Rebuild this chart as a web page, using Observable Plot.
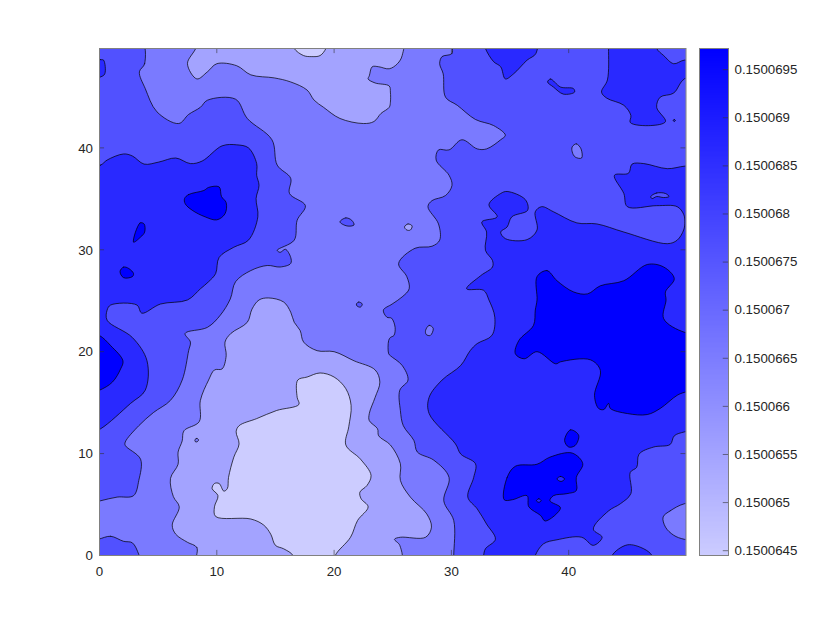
<!DOCTYPE html>
<html>
<head>
<meta charset="utf-8">
<script src="https://cdn.jsdelivr.net/npm/d3@7"></script>
<script src="https://cdn.jsdelivr.net/npm/@observablehq/plot@0.6"></script>
<style>
html,body{margin:0;padding:0;background:#fff}
#chart{position:relative;width:830px;height:623px;overflow:hidden}
#chart svg{display:block;background:transparent}
#bar{position:absolute;left:690px;top:0}
</style>
</head>
<body>
<div id="chart"><div id="main"></div><div id="bar"></div></div>
<script>
// Bands between contour levels (value range of the colour bar: 0.15006445 – 0.15006972)
const bandNames = ["L0","L1","L2","L3","L4","L5"];
const bandColors = ["#ccccff","#a3a3ff","#7a7aff","#5151ff","#2929ff","#0000ff"];
const xTicks = [0,10,20,30,40];
const yTicks = [0,10,20,30,40];
const yTop = 49.75;   // data value at the top of the frame
const barTicks = [0.1500645,0.150065,0.1500655,0.150066,0.1500665,0.150067,0.1500675,0.150068,0.1500685,0.150069,0.1500695];
const barDomain = [0.15006445,0.15006972];

// Runs past the edge of the frame are clipped.
const leftWide = [[3.5,51],[3.85,48.5],[3.4,47.7],[3.9,46.05],[4.9,43.75],[6.75,42.6],[7.6,43.5],[8.6,44.2],[9.2,44.9],[11.6,45],[12.6,43.1],[14.7,41],[15.15,38.5],[16.3,37.2],[16.2,35.7],[17.55,34.5],[16.85,33.06],[16.6,31.1],[15.15,30.1],[15.4,29.9],[15.85,30.2],[16.3,29.4],[16.3,28.8],[15.4,28.45],[14.3,28.6],[12.9,28.1],[11.6,27],[11.15,25.3],[10.3,23.7],[9.2,22.5],[7.3,21.9],[7.75,21.05],[7.6,20.2],[7.05,17.3],[6.05,15.3],[4.6,14.1],[3.35,12.8],[2.2,11.2],[2.2,10.85],[3.5,9.5],[3.35,7.4],[2.9,5.9],[1.5,5.76],[0.1,5.4],[-1,5.1],[-2,51]];
const rightWide = [[30.2,51],[30.05,49.5],[29.2,49.2],[29,48.5],[29.3,47.5],[29.5,45.2],[30.5,44.4],[32.05,43],[33.6,42.4],[34.6,41.45],[34.2,41],[33,40.1],[32.2,40.1],[30.9,41],[29.8,40],[28.9,40],[28.7,39],[29.8,37.5],[30.05,36.5],[29.5,35.5],[28.35,35],[28,34.4],[28.9,32.7],[29,31.1],[28.35,30.5],[26.9,30.3],[25.5,28.8],[26.2,27.5],[26.4,26.3],[25.8,25.5],[24.95,24.8],[24.2,24.2],[24.5,23.5],[24.9,23.4],[25.2,22.5],[25.1,21.7],[24.8,21.5],[24.65,21.2],[24.65,19.9],[24.8,19.7],[25.8,18.75],[26.3,17.3],[25.6,16.3],[25.65,14.3],[25.9,12.8],[26.8,11.35],[27.1,10.2],[28.5,9.4],[29.8,7.7],[29.35,5.4],[30.2,3.45],[30.2,0],[30.2,-1],[53,-2],[53,52]];
const cornerLowLeft = [[-0.1,1.6],[0.95,1.9],[2.05,1.4],[2.8,1.25],[3.35,0.1],[3.6,-1],[-1,-2],[-1,1.4]];
const islandA = [[20.5,32.9],[21,33.3],[21.5,33.06],[21.7,32.6],[21.1,32.5]];
const islandB = [[21.9,24.8],[22.1,25],[22.4,24.8],[22.25,24.5],[21.96,24.6]];
const holeA = [[40.3,40.3],[40.65,40.6],[41.05,40.1],[41.1,39.2],[40.55,39.3],[40.3,39.8]];
const holeB = [[27.8,22.2],[28.1,22.7],[28.45,22.4],[28.2,21.7],[27.85,21.8]];
const lobeRight = [[49.85,5.1],[48.65,4.4],[48.05,3.8],[48.25,2.8],[48.95,2],[49.85,1.6],[52,1.4],[52,5.3]];

const topLight = [[8.4,51],[8.2,50],[7.5,48.5],[8.3,47],[9.2,47.7],[10,48.5],[11.7,48.3],[12.9,47.4],[14.9,47.1],[16.3,46.7],[17.7,45.9],[18.3,44.9],[19.1,44.2],[20.5,43.1],[22.5,42.6],[23.4,42.8],[24,43.6],[24.7,44.2],[24.8,44.7],[24.8,45.7],[24.7,46.3],[23.5,46.6],[22.9,47],[23,47.3],[23.25,48.2],[23.8,48.2],[24.7,48],[25.4,48.5],[25.8,49.3],[25.75,51]];
const lowLight = [[8.4,-1],[8.3,0.8],[7.5,1.3],[6.5,2.1],[6.2,3],[6.8,4.8],[6.3,5.8],[6.05,7.6],[6.7,9],[6.7,10.2],[7.05,11.3],[7.2,12.3],[8.5,13.2],[8.6,15.3],[9.3,17.3],[9.8,18.3],[10.45,18.4],[10.8,19.7],[10.7,21.05],[11.2,21.9],[12.6,23],[13,24.3],[13.6,25.2],[14.4,25.4],[15.7,25],[16.3,24],[16.6,23],[17.1,22.2],[17.4,21.05],[18.55,20.2],[20,20.1],[21.7,19.2],[23.5,18.3],[23.9,17.1],[23.5,15.6],[23,14],[23,13.3],[23.7,12.5],[23.8,11.8],[24.8,10.9],[25.65,9.05],[25.65,7.4],[26.5,5.76],[27.9,4.1],[28.3,2.8],[27.8,1.8],[25.65,1.8],[25.15,1.6],[25.6,1],[25.6,-1]];
const dotLight = [[26,32.4],[26.3,32.7],[26.65,32.5],[26.5,32.1],[26.2,32.1]];
const dotMid = [[8.15,11.45],[8.3,11.55],[8.45,11.4],[8.3,11.2],[8.15,11.25]];

const topPale = [[16.4,51],[16.6,50],[17.4,49.3],[18.1,49.2],[18.8,49.3],[19.3,50],[19.5,51]];
const lowPale = [[16.5,-1],[16.5,0],[15.7,0.66],[15,1],[14.6,2.1],[14,3],[12.9,3.6],[9.9,3.85],[9.8,4.8],[10.1,5.9],[9.6,6.6],[9.8,7.1],[10.2,7.1],[10.6,6.35],[10.9,6.6],[11,7.7],[11.45,9.7],[11.9,11],[11.65,12.2],[11.9,12.8],[13.4,13.5],[15.1,14.3],[17,14.9],[16.85,15.6],[16.9,17.3],[17.7,17.6],[18.8,18],[20,17.6],[21,16.45],[21.45,14.8],[21.25,12.7],[21,10.9],[22.25,9.5],[23.15,7.9],[22.8,6.9],[22.2,6.25],[22.3,5.6],[22.9,4.8],[22,3.45],[21.4,1.8],[20.1,0],[20,-1]];

const upperLeftDeep = [[-1,38.3],[0.1,38.5],[0.65,39],[2.05,39.6],[2.8,39.4],[3.8,38.6],[5.05,38.8],[6.5,39.2],[7.75,38.65],[8.75,38.9],[10.45,40.4],[11.7,40.5],[12.7,40.2],[13.4,38.65],[13.4,37.5],[13.6,36.5],[13.35,35.2],[13.5,33.4],[12.7,31.1],[11.45,30.4],[10.2,29.4],[9.9,27.8],[9.3,27],[8.6,26.3],[7.5,25.2],[5.2,24.8],[3.6,23.9],[3.2,24.7],[0.95,24.7],[0.65,24.2],[0.65,23.2],[2.8,21.5],[4.05,19.2],[3.9,16.3],[2.65,15],[0.1,12.5],[-1,12]];
const edgeDeep = [[-1,49],[0.1,48.9],[0.35,48.85],[0.45,47.5],[0.1,47.2],[-1,47]];
const lowRightDeep = [[32.75,-1],[32.75,0],[32.9,0.66],[33.75,1.6],[33,3.1],[32.2,4.6],[31.4,5.76],[31.9,7.7],[32.05,9.05],[30.8,10],[30.35,11],[28.1,14],[28.1,15.6],[29.2,17.3],[30.8,18.75],[31.6,20.2],[32.2,20.9],[33.45,21.7],[33.7,23.5],[33.2,25.2],[32.75,26.15],[31.3,26.3],[32.5,27.6],[33.5,28.45],[33.5,29.1],[32.9,30.1],[33,31.9],[32.6,32.9],[33.9,33.4],[33.2,34.6],[34.2,35.7],[34.75,35.9],[36.3,35.1],[36.5,34.05],[35.15,33.4],[34.75,32.4],[34.2,31.9],[34.6,31.25],[36.45,31.15],[37.3,32.1],[37.15,33.9],[37.7,34.4],[38.7,33.9],[40.7,32.8],[42.4,32.7],[44.7,31.9],[48.4,30.75],[49.25,31.1],[49.8,32.1],[49.9,32.9],[49.8,33.65],[49.25,34.4],[47.5,34.5],[45,34.4],[44.7,35.7],[43.9,37.5],[45.1,37.7],[45.4,38.6],[46.4,38.65],[48.4,38.15],[49.9,38.4],[52,38.5],[52,12.6],[49.9,12.2],[49,11.8],[48.65,10.95],[47.25,10.7],[46,10],[45.8,8.7],[45.25,8.2],[45.3,6.1],[44.4,5.1],[43.4,4.4],[42.1,2.6],[42.85,1.8],[42.1,1],[41.1,1.8],[39,1.55],[37.85,1.15],[37.15,0],[37,-1]];
const topRightDeep = [[43.4,51],[43.4,50],[43.3,46.9],[42.8,45.7],[43.25,45.1],[44.7,44.4],[45.3,43.4],[45.25,42.7],[47,42.4],[48.25,42.8],[47.5,44.2],[47.8,45.2],[48.95,45.6],[49.85,47],[52,47.5],[52,48.7],[49.85,48.85],[48.95,48.5],[48.1,49.3],[47.5,50],[47.4,51]];
const topMidDeep = [[32.7,51],[32.9,50],[33.6,48.7],[34.2,48.2],[34.6,47],[35.3,47.5],[36.45,48.85],[37.2,49.5],[37.2,51]];
const sliverDeep = [[38.2,46.7],[38.45,47],[39.3,46.2],[40.4,46.05],[40.5,45.7],[39.55,45.5],[38.7,46.2]];
const dotDeep = [[48.9,42.9],[49,43],[49.1,42.9],[49,42.8]];
const bottomDeep = [[43.7,-1],[43.7,0],[45,1.05],[46.4,0.66],[47.1,0],[47.3,-1]];
const sliverBack = [[47,35.4],[47.5,35.75],[48.25,35.7],[48.55,35.4],[48.1,35.3],[47.5,35.4],[47.1,35.2]];

const leftLobeMax = [[-1,22],[0,21.7],[0.95,20.7],[2,19.2],[1.8,18.4],[1.1,17.1],[0,16.3],[-1,16]];
const leftCoreMax = [[7.25,35.2],[7.6,35.6],[8.9,36],[9.3,36.3],[10.2,36.35],[10.4,35.4],[10.8,34.8],[10.7,33.7],[10,33.1],[9,33.4],[7.9,34.05],[7.3,34.7]];
const leftSliverMax = [[2.9,30.9],[3.45,32.8],[3.8,32.7],[3.85,31.9],[3.5,31.4]];
const leftDotMax = [[1.75,28],[2.05,28.45],[2.5,28.3],[2.9,27.8],[2.8,27.5],[2.05,27.4]];
const rightMax = [[37.3,27.5],[38.15,28.1],[39,27.1],[40.4,26],[41.6,25.8],[42.7,26.6],[44.7,27.1],[46.7,28.7],[48.1,28.45],[49,27.3],[48.25,26],[48.3,25.2],[48.1,23.35],[49.9,22],[52,21.8],[52,16.5],[49.9,16.1],[49.25,15.8],[47.8,14.5],[46.7,13.9],[45,14],[43.55,14.5],[43.4,15],[43,14.4],[42.55,14.5],[42.2,15.8],[42.7,18.25],[41.85,19.3],[39.3,19.1],[38.9,18.9],[37.3,20.1],[36.2,19.4],[35.45,19.9],[35.75,21.2],[37,22.7],[37.15,24.2],[37.3,25.2]];
const lowMax = [[34.5,5.5],[34.75,7.7],[35.45,8.8],[37.3,9],[38.4,9.7],[40.3,10.1],[41.2,9.05],[40.65,7.7],[40.65,6.4],[39.85,6.1],[38.7,5.9],[38.4,5.4],[39.3,4.7],[38,3.4],[37.6,3.95],[36.6,4.8],[36.45,5.9],[35.2,5.5]];
const lowPeakMax = [[39.65,11.35],[40.15,12.4],[40.85,11.85],[40.55,10.85],[40,10.7]];
const lowHoleA = [[39,7.55],[39.3,7.8],[39.65,7.55],[39.35,7.3]];
const lowHoleB = [[37.25,5.4],[37.45,5.6],[37.65,5.4],[37.45,5.25]];

// Painting order, each outline with the band it encloses
const layers = [
  ["L3",leftWide],["L3",rightWide],["L3",cornerLowLeft],
  ["L2",lobeRight],["L2",holeA],["L2",holeB],
  ["L3",islandA],["L3",islandB],
  ["L1",topLight],["L1",lowLight],["L1",dotLight],["L2",dotMid],
  ["L0",topPale],["L0",lowPale],
  ["L4",upperLeftDeep],["L4",edgeDeep],["L4",lowRightDeep],["L4",topRightDeep],["L4",topMidDeep],["L4",sliverDeep],["L4",dotDeep],["L4",bottomDeep],
  ["L3",sliverBack],
  ["L5",leftLobeMax],["L5",leftCoreMax],["L5",leftSliverMax],["L5",leftDotMax],["L5",rightMax],["L5",lowMax],["L5",lowPeakMax],
  ["L4",lowHoleA],["L4",lowHoleB]
];
const rows = layers.flatMap(([band,pts],i)=>pts.map(([x,y])=>({x,y:y*yTop/50,band,ring:i})));

const font = "'Liberation Sans', Arial, sans-serif";
const ink = "#262626";
const tickStroke = "#333333";

const main = Plot.plot({
  width:830, height:623,
  marginLeft:99, marginRight:144.5, marginTop:48, marginBottom:68,
  style:{fontFamily:font, fontSize:"13.3px", color:ink, background:"transparent"},
  x:{domain:[0,50], label:null},
  y:{domain:[0,yTop], label:null},
  color:{type:"ordinal", domain:bandNames, range:bandColors},
  marks:[
    Plot.frame({fill:bandColors[2], stroke:"none"}),
    Plot.line(rows,{x:"x",y:"y",z:"ring",fill:"band",stroke:"#000",strokeWidth:0.7,curve:"catmull-rom-closed",clip:"frame"}),
    Plot.ruleX(xTicks,{y1:0,y2:0.5,stroke:tickStroke,strokeWidth:0.6}),
    Plot.ruleX(xTicks,{y1:yTop-0.5,y2:yTop,stroke:tickStroke,strokeWidth:0.6}),
    Plot.ruleY(yTicks,{x1:0,x2:0.43,stroke:tickStroke,strokeWidth:0.6}),
    Plot.ruleY(yTicks,{x1:49.57,x2:50,stroke:tickStroke,strokeWidth:0.6}),
    Plot.frame({stroke:"#808080",strokeWidth:1}),
    Plot.axisX({ticks:xTicks,tickSize:0,tickPadding:11,label:null,fontSize:13.3,tickFormat:d=>String(d),fill:ink}),
    Plot.axisY({ticks:yTicks,tickSize:0,tickPadding:6.5,dy:0.5,label:null,fontSize:13.3,tickFormat:d=>String(d),fill:ink})
  ]
});
document.getElementById("main").appendChild(main);

const bar = Plot.plot({
  width:140, height:623,
  marginLeft:9, marginRight:102, marginTop:48, marginBottom:68,
  style:{fontFamily:font, fontSize:"13.3px", color:ink, background:"transparent"},
  x:{domain:[0,1], axis:null},
  y:{domain:barDomain, label:null},
  color:{type:"linear", domain:barDomain, range:[bandColors[0],bandColors[5]], interpolate:"rgb"},
  marks:[
    Plot.raster({fill:(x,y)=>y, x1:0,x2:1,y1:barDomain[0],y2:barDomain[1],width:2,height:300}),
    Plot.ruleY(barTicks,{x1:0.82,x2:1,stroke:tickStroke,strokeWidth:0.6}),
    Plot.frame({stroke:"#808080",strokeWidth:1}),
    Plot.axisY({anchor:"right",ticks:barTicks,tickSize:0,tickPadding:6,label:null,fontSize:13.3,tickFormat:d=>String(+d.toFixed(7)),fill:ink})
  ]
});
document.getElementById("bar").appendChild(bar);
</script>
</body>
</html>
